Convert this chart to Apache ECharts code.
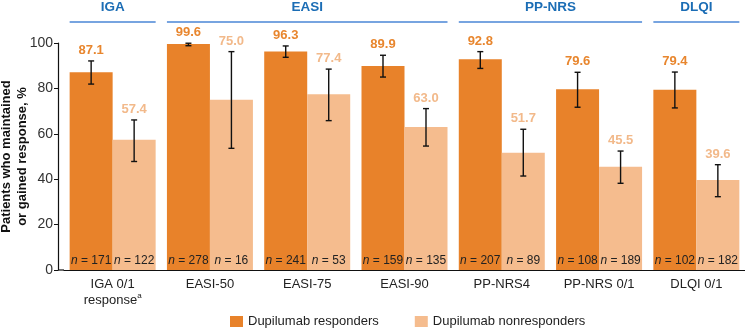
<!DOCTYPE html>
<html>
<head>
<meta charset="utf-8">
<script src="https://cdn.jsdelivr.net/npm/echarts@6/dist/echarts.min.js"></script>
<style>
html,body{margin:0;padding:0;background:#fff;}
#chart{width:745px;height:328px;}
</style>
</head>
<body>
<div id="chart"></div>
<script>
// ---- data ----
const categories = ['IGA 0/1\nresponse{sup|a}', 'EASI-50', 'EASI-75', 'EASI-90', 'PP-NRS4', 'PP-NRS 0/1', 'DLQI 0/1'];
const responders = [87.1, 99.6, 96.3, 89.9, 92.8, 79.6, 79.4];
const nonresponders = [57.4, 75.0, 77.4, 63.0, 51.7, 45.5, 39.6];
const respLow  = [81.9, 98.8, 93.7, 85.0, 88.8, 71.7, 71.4];
const respHigh = [92.1, 99.9, 98.7, 94.6, 96.2, 87.1, 87.2];
const nonLow   = [47.8, 53.6, 65.8, 54.6, 41.4, 38.2, 32.3];
const nonHigh  = [66.1, 96.2, 88.5, 71.1, 62.0, 52.4, 46.4];
const respN = [171, 278, 241, 159, 207, 108, 102];
const nonN  = [122, 16, 53, 135, 89, 189, 182];
const groupNames = ['IGA', 'EASI', 'PP-NRS', 'DLQI'];
const groupStart = [0, 1, 4, 6];
const groupEnd   = [0, 3, 5, 6];
const seriesNames = ['Dupilumab responders', 'Dupilumab nonresponders'];
const yTicks = [0, 20, 40, 60, 80, 100];

// ---- style ----
const FONT = 'Liberation Sans, Arial, Helvetica, sans-serif';
const C_RESP = '#E8822A';
const C_NON = '#F5BC8E';
const C_RESP_LBL = '#E8862E';
const C_NON_LBL = '#F2B98A';
const BAR_W = 43;

const chart = echarts.init(document.getElementById('chart'), null, {renderer: 'canvas'});

function errData(lo, hi, vals) {
  return vals.map((v, i) => [i, lo[i], hi[i], v]);
}
function errRender(sign, color) {
  return function (params, api) {
    const i = api.value(0);
    const top = api.coord([i, api.value(2)]);
    const bot = api.coord([i, api.value(1)]);
    const x = top[0] + sign * BAR_W / 2;
    const cap = 3;
    const st = {stroke: '#111', lineWidth: 1.4};
    return {
      type: 'group',
      children: [
        {type: 'line', shape: {x1: x, y1: top[1], x2: x, y2: bot[1]}, style: st},
        {type: 'line', shape: {x1: x - cap, y1: top[1], x2: x + cap, y2: top[1]}, style: st},
        {type: 'line', shape: {x1: x - cap, y1: bot[1], x2: x + cap, y2: bot[1]}, style: st},
        {type: 'text', x: x, y: top[1] - 4, style: {
          text: api.value(3).toFixed(1), fill: color, font: 'bold 13px ' + FONT,
          textAlign: 'center', textVerticalAlign: 'bottom'}}
      ]
    };
  };
}

const groupData = groupNames.map((n, k) => [groupStart[k], groupEnd[k], n]);

const option = {
  animation: false,
  textStyle: {fontFamily: FONT},
  grid: {left: 64, right: 0, top: 43, height: 227, outerBoundsMode: 'none', containLabel: false},
  legend: {
    data: seriesNames,
    left: 230, top: 315, padding: 0,
    icon: 'rect', itemWidth: 13, itemHeight: 11, itemGap: 36,
    textStyle: {fontSize: 13, color: '#222', fontFamily: FONT}
  },
  xAxis: {
    type: 'category',
    data: categories,
    axisLine: {lineStyle: {color: '#111', width: 1.2}},
    axisTick: {show: false},
    axisLabel: {
      fontSize: 13, color: '#222', lineHeight: 16, margin: 6, interval: 0,
      rich: {sup: {fontSize: 8, verticalAlign: 'top', lineHeight: 16, padding: [0,0,6,0], color: '#222'}}
    }
  },
  yAxis: {
    type: 'value', min: 0, max: 100, interval: 20, offset: 6,
    name: 'Patients who maintained\nor gained response, %',
    nameLocation: 'middle', nameGap: 28, nameMoveOverlap: false,
    nameTextStyle: {fontSize: 13, fontWeight: 'bold', color: '#111', lineHeight: 16, fontFamily: FONT},
    axisLine: {show: true, lineStyle: {color: '#111', width: 1.2}},
    axisTick: {show: true, length: 4, lineStyle: {color: '#111'}},
    axisLabel: {fontSize: 14, color: '#333', margin: 5,
      formatter: v => yTicks.includes(v) ? String(v) : ''},
    splitLine: {show: false}
  },
  series: [
    {
      name: seriesNames[0], type: 'bar', data: responders, barWidth: BAR_W, barGap: 0,
      itemStyle: {color: C_RESP},
      label: {show: true, position: 'insideBottom', distance: 3,
        formatter: p => '{i|n} = ' + respN[p.dataIndex],
        fontSize: 12, color: '#222',
        rich: {i: {fontStyle: 'italic', fontSize: 12, color: '#222'}}}
    },
    {
      name: seriesNames[1], type: 'bar', data: nonresponders, barWidth: BAR_W, barGap: 0,
      itemStyle: {color: C_NON},
      label: {show: true, position: 'insideBottom', distance: 3,
        formatter: p => '{i|n} = ' + nonN[p.dataIndex],
        fontSize: 12, color: '#222',
        rich: {i: {fontStyle: 'italic', fontSize: 12, color: '#222'}}}
    },
    {
      type: 'custom', data: errData(respLow, respHigh, responders),
      renderItem: errRender(-1, C_RESP_LBL), encode: {x: 0, y: [1, 2]}, z: 5, silent: true
    },
    {
      type: 'custom', data: errData(nonLow, nonHigh, nonresponders),
      renderItem: errRender(1, C_NON_LBL), encode: {x: 0, y: [1, 2]}, z: 5, silent: true
    },
    {
      type: 'custom', data: groupData, silent: true, clip: false,
      encode: {x: 0},
      renderItem: function (params, api) {
        const a = api.coord([api.value(0), 100]);
        const b = api.coord([api.value(1), 100]);
        const x1 = a[0] - BAR_W, x2 = b[0] + BAR_W;
        const y = a[1] - 21;
        return {
          type: 'group',
          children: [
            {type: 'line', shape: {x1: x1, y1: y, x2: x2, y2: y}, style: {stroke: '#4A86D6', lineWidth: 1.5}},
            {type: 'text', x: (x1 + x2) / 2, y: y - 8, style: {
              text: groupData[params.dataIndex][2], fill: '#1B6DB5', font: 'bold 13.5px ' + FONT,
              textAlign: 'center', textVerticalAlign: 'bottom'}}
          ]
        };
      }
    }
  ]
};
chart.setOption(option);

// extend the baseline left to meet the offset y-axis
const origin = chart.convertToPixel({xAxisIndex: 0, yAxisIndex: 0}, [0, 0]);
const band = chart.convertToPixel({xAxisIndex: 0}, 1) - chart.convertToPixel({xAxisIndex: 0}, 0);
const leftEdge = origin[0] - band / 2;
chart.setOption({graphic: [{type: 'line', shape: {x1: leftEdge - 6, y1: origin[1], x2: leftEdge, y2: origin[1]},
  style: {stroke: '#111', lineWidth: 1.2}, silent: true}]});
</script>
</body>
</html>
